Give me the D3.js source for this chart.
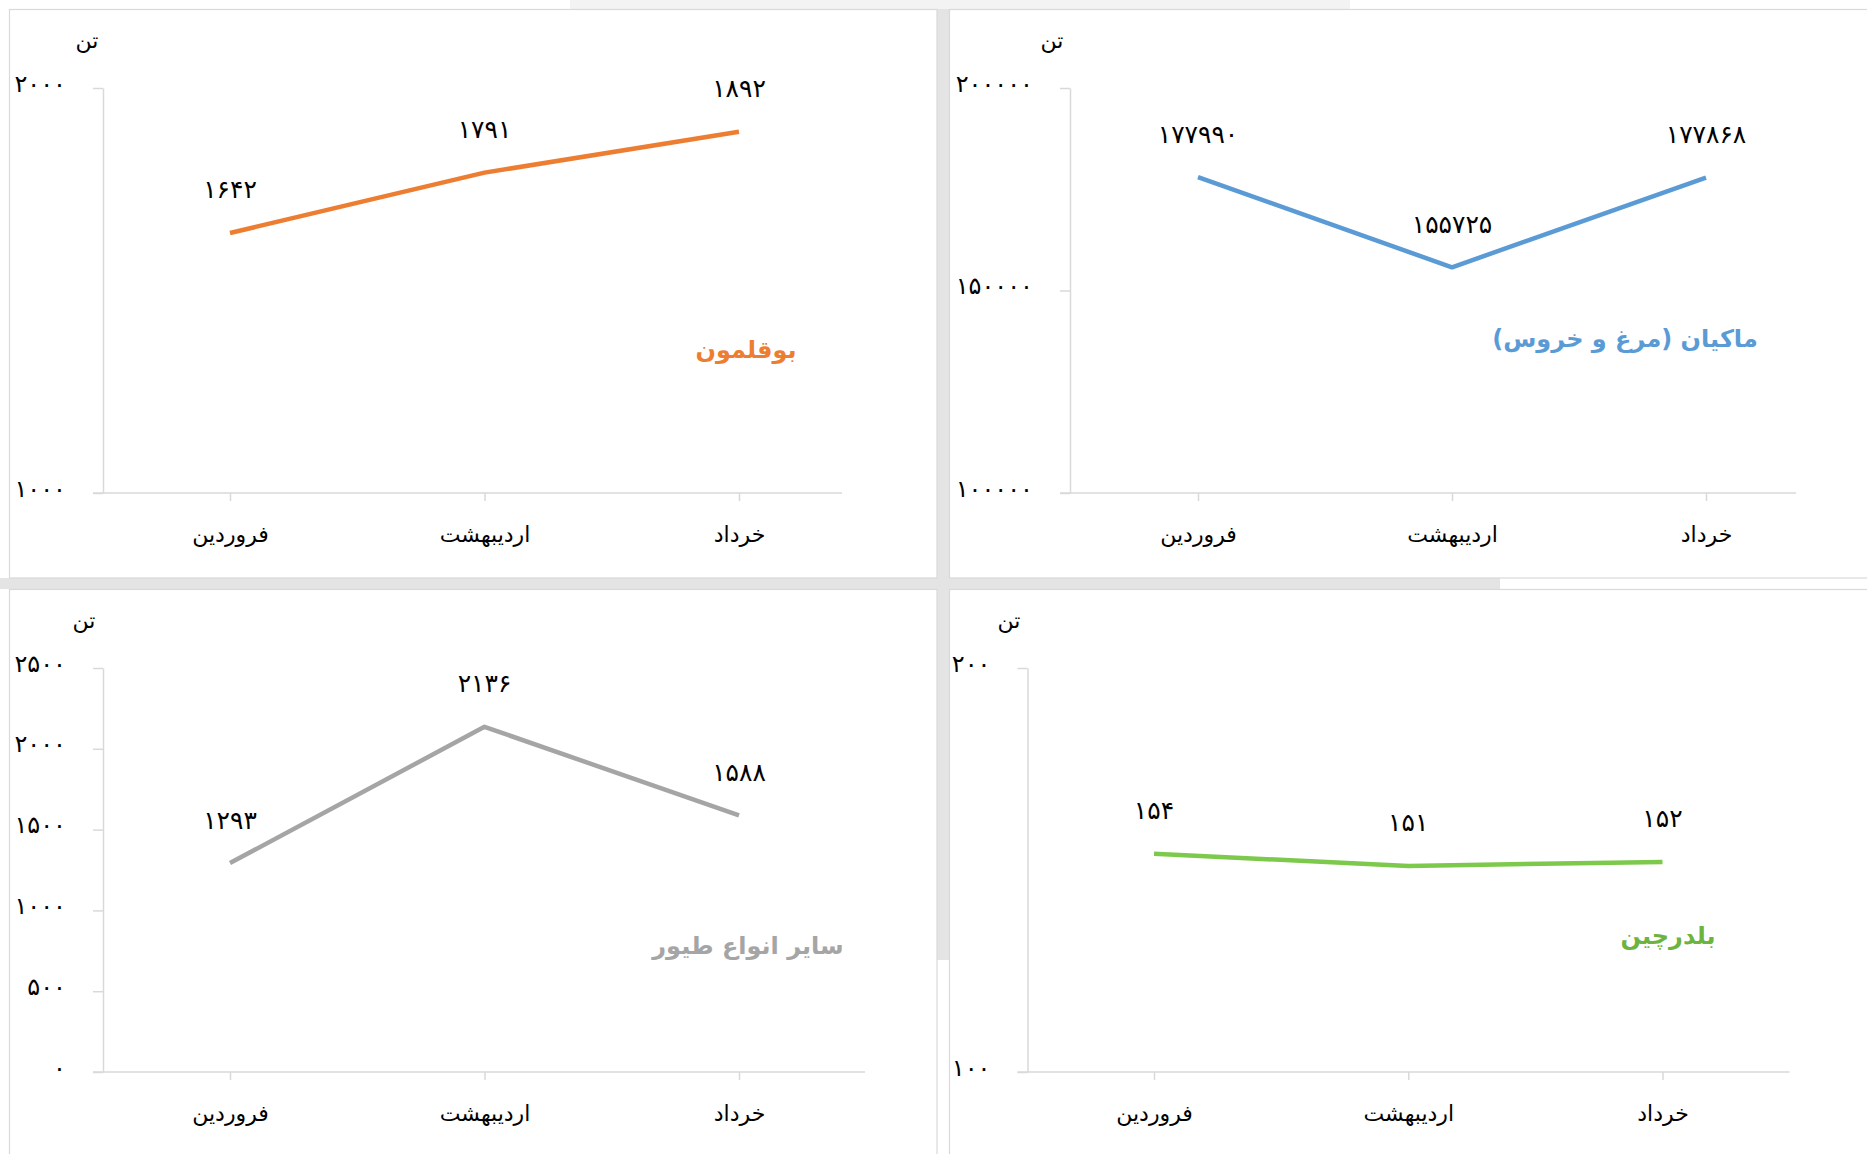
<!DOCTYPE html>
<html>
<head>
<meta charset="utf-8">
<script src="https://cdn.jsdelivr.net/npm/d3@7"></script>
<style>
  body { margin: 0; background: #fff; }
  svg text { font-family: "DejaVu Sans", sans-serif; fill: #000; }
</style>
</head>
<body>
<div class="chart"></div>
<script>
// data
var months = ["فروردین", "اردیبهشت", "خرداد"];
var turkey = [1642, 1791, 1892];
var hens = [177990, 155725, 177868];
var otherBirds = [1293, 2136, 1588];
var quail = [154, 151, 152];

var turkeyTicks = [1000, 2000];
var hensTicks = [100000, 150000, 200000];
var otherTicks = [0, 500, 1000, 1500, 2000, 2500];
var quailTicks = [100, 200];

var seriesNames = ["بوقلمون", "ماکیان (مرغ و خروس)", "سایر انواع طیور", "بلدرچین"];
var unitLabel = "تن";

var svgWidth = 1867;
var svgHeight = 1154;

var svg = d3.select(".chart")
  .append("svg")
  .attr("width", svgWidth)
  .attr("height", svgHeight);

// gray gaps between the panels
svg.append("rect").attr("x", 0).attr("y", 578).attr("width", 1500).attr("height", 11).attr("fill", "#e4e4e4");
svg.append("rect").attr("x", 937).attr("y", 0).attr("width", 12).attr("height", 960).attr("fill", "#e4e4e4");
svg.append("rect").attr("x", 570).attr("y", 0).attr("width", 780).attr("height", 9).attr("fill", "#f3f3f3");

// panel frames
var frames = [
  {x: 9.5, y: 9.5, w: 927.5, h: 568.5},
  {x: 949.5, y: 9.5, w: 930, h: 568.5},
  {x: 9.5, y: 589.5, w: 927.5, h: 580},
  {x: 949.5, y: 589.5, w: 930, h: 580}
];
svg.selectAll(".frame")
  .data(frames)
  .enter()
  .append("rect")
  .attr("x", d => d.x)
  .attr("y", d => d.y)
  .attr("width", d => d.w)
  .attr("height", d => d.h)
  .attr("fill", "#fff")
  .attr("stroke", "#d9d9d9")
  .attr("stroke-width", 1.2);

var toFa = function(n) {
  return String(n).replace(/[0-9]/g, c => "۰۱۲۳۴۵۶۷۸۹"[+c]);
};

var panels = [
  {values: turkey, ticks: turkeyTicks, name: seriesNames[0], color: "#ED7D31", titleColor: "#ED7D31",
   axisX: 103, top: 88, bottom: 493, x0: 230, x1: 739, right: 842, unitX: 87, titleX: 746, titleY: 350},
  {values: hens, ticks: hensTicks, name: seriesNames[1], color: "#5B9BD5", titleColor: "#5B9BD5",
   axisX: 1070, top: 88, bottom: 493, x0: 1198, x1: 1706, right: 1796, unitX: 1052, titleX: 1625, titleY: 339},
  {values: otherBirds, ticks: otherTicks, name: seriesNames[2], color: "#A5A5A5", titleColor: "#A5A5A5",
   axisX: 103, top: 668, bottom: 1072, x0: 230, x1: 739, right: 865, unitX: 84, titleX: 748, titleY: 946},
  {values: quail, ticks: quailTicks, name: seriesNames[3], color: "#7CC94C", titleColor: "#6DB33F",
   axisX: 1027.5, top: 668, bottom: 1072, x0: 1154, x1: 1662.5, right: 1789.5, unitX: 1009, titleX: 1668, titleY: 936}
];

panels.forEach(function(p) {
  var g = svg.append("g");

  var xScale = d3.scalePoint()
    .domain(months)
    .range([p.x0, p.x1]);

  var yScale = d3.scaleLinear()
    .domain(d3.extent(p.ticks))
    .range([p.bottom, p.top]);

  // y axis
  var leftAxis = d3.axisLeft(yScale)
    .tickValues(p.ticks)
    .tickSize(10)
    .tickSizeOuter(0)
    .tickFormat(toFa);

  var yAxisG = g.append("g")
    .attr("transform", `translate(${p.axisX}, 0)`)
    .call(leftAxis);
  yAxisG.select(".domain").attr("stroke", "#d9d9d9").attr("stroke-width", 1.5);
  yAxisG.selectAll(".tick line").attr("stroke", "#d9d9d9").attr("stroke-width", 1.5);
  yAxisG.selectAll(".tick text")
    .attr("x", -37)
    .attr("dy", null)
    .attr("y", -5)
    .attr("dominant-baseline", "central")
    .attr("font-size", "24px")
    .attr("font-family", "DejaVu Sans")
    .attr("fill", "#000");

  // x axis
  var bottomAxis = d3.axisBottom(xScale)
    .tickSize(8)
    .tickSizeOuter(0);

  var xAxisG = g.append("g")
    .attr("transform", `translate(0, ${p.bottom})`)
    .call(bottomAxis);
  xAxisG.select(".domain").remove();
  xAxisG.selectAll(".tick line").attr("stroke", "#d9d9d9").attr("stroke-width", 1.5);
  xAxisG.selectAll(".tick text")
    .attr("y", 41)
    .attr("dy", null)
    .attr("dominant-baseline", "central")
    .attr("font-size", "22px")
    .attr("font-family", "DejaVu Sans")
    .attr("fill", "#000");

  g.append("line")
    .attr("x1", p.axisX - 10)
    .attr("x2", p.right)
    .attr("y1", p.bottom)
    .attr("y2", p.bottom)
    .attr("stroke", "#d9d9d9")
    .attr("stroke-width", 1.5);

  // unit
  g.append("text")
    .attr("x", p.unitX)
    .attr("y", p.top - 48)
    .attr("text-anchor", "middle")
    .attr("dominant-baseline", "central")
    .attr("font-size", "22px")
    .text(unitLabel);

  // line
  var line = d3.line()
    .x((d, i) => xScale(months[i]))
    .y(d => yScale(d));

  g.append("path")
    .datum(p.values)
    .attr("d", line)
    .attr("fill", "none")
    .attr("stroke", p.color)
    .attr("stroke-width", 4.5)
    .attr("stroke-linejoin", "round");

  // data labels
  g.selectAll(null)
    .data(p.values)
    .enter()
    .append("text")
    .text(d => toFa(d))
    .attr("x", (d, i) => xScale(months[i]))
    .attr("y", d => yScale(d) - 43)
    .attr("text-anchor", "middle")
    .attr("dominant-baseline", "central")
    .attr("font-size", "25px");

  // series title
  g.append("text")
    .attr("x", p.titleX)
    .attr("y", p.titleY)
    .attr("text-anchor", "middle")
    .attr("dominant-baseline", "central")
    .attr("font-size", "24px")
    .attr("font-weight", "bold")
    .style("fill", p.titleColor)
    .text(p.name);
});
</script>
</body>
</html>
